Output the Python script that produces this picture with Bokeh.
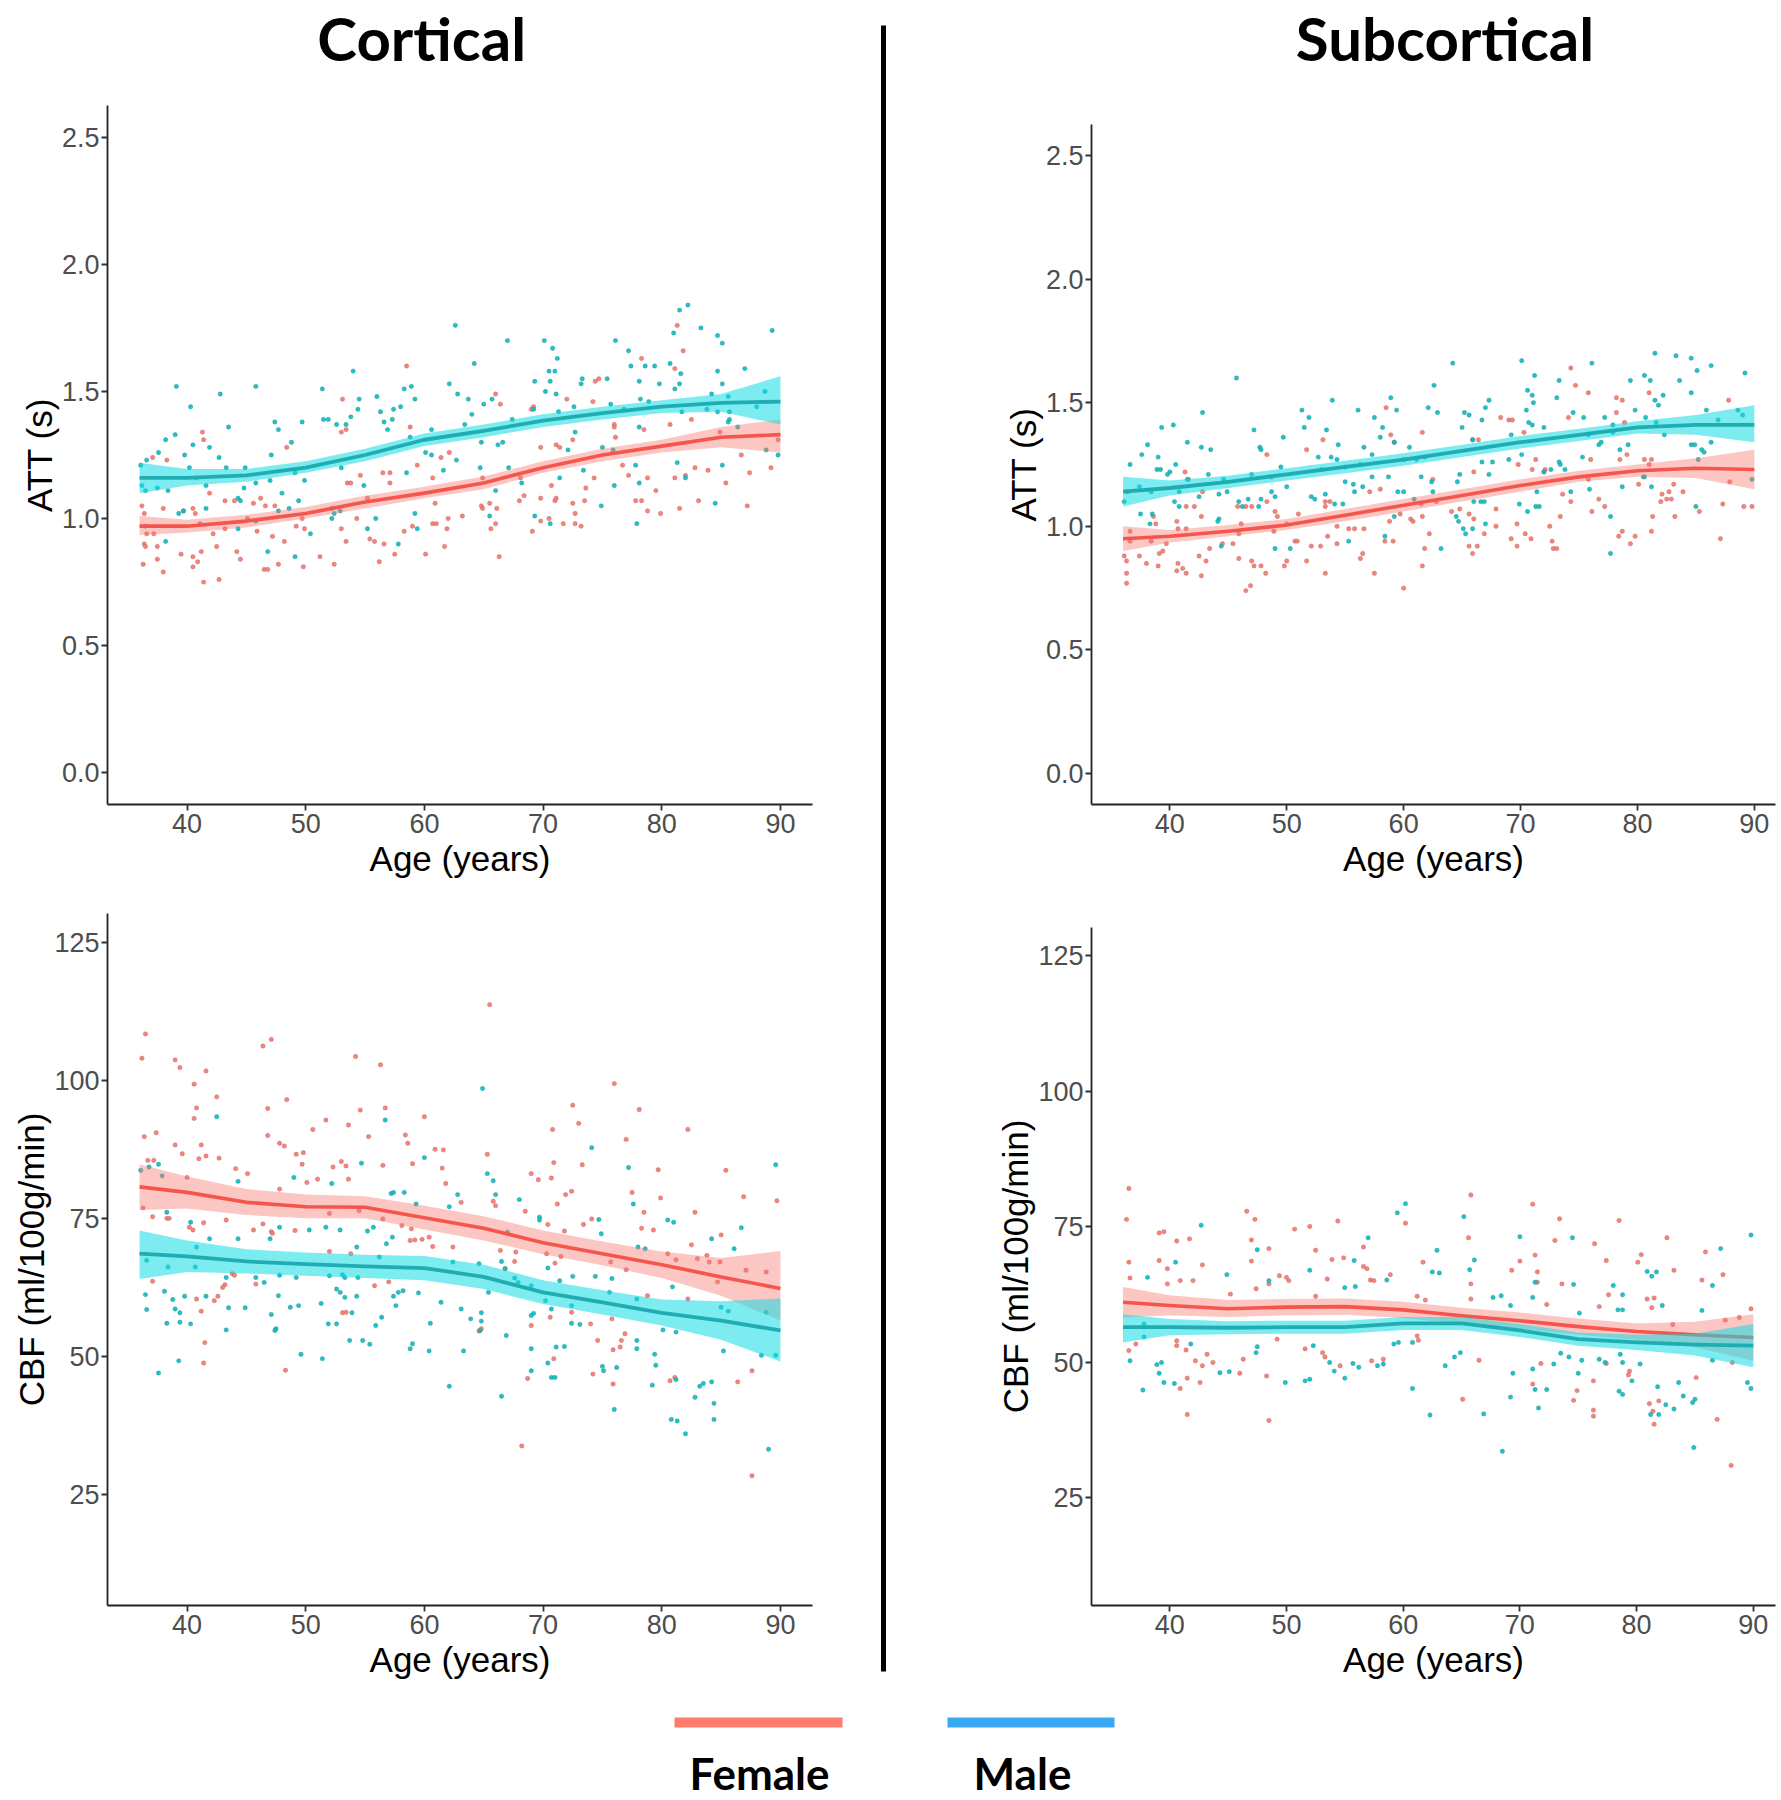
from bokeh.plotting import figure
from bokeh.layouts import row, column
from bokeh.models import Range1d, FixedTicker, NumeralTickFormatter
from bokeh.embed import file_html
from bokeh.resources import INLINE
from bokeh.core.properties import value

# ---------------- DATA ----------------
ages_ticks = [40, 50, 60, 70, 80, 90]
att_ticks = [0.0, 0.5, 1.0, 1.5, 2.0, 2.5]
cbf_ticks = [25, 50, 75, 100, 125]
panel_titles = ["Cortical", "Subcortical"]
legend_labels = ["Female", "Male"]
x_label = "Age (years)"
att_label = "ATT (s)"
cbf_label = "CBF (ml/100g/min)"

# smooth fits (age grid, fitted value, lower CI, upper CI)
fit_age = [36, 40, 45, 50, 55, 60, 65, 70, 75, 80, 85, 90]

ctx_att_f_fit = [0.97, 0.97, 0.99, 1.02, 1.065, 1.10, 1.14, 1.20, 1.25, 1.285, 1.32, 1.33]
ctx_att_f_lo = [0.935, 0.945, 0.965, 1.00, 1.04, 1.08, 1.115, 1.18, 1.225, 1.26, 1.28, 1.26]
ctx_att_f_hi = [1.01, 0.995, 1.015, 1.045, 1.09, 1.125, 1.165, 1.225, 1.275, 1.31, 1.36, 1.39]
ctx_att_m_fit = [1.16, 1.16, 1.17, 1.20, 1.25, 1.31, 1.345, 1.385, 1.415, 1.44, 1.455, 1.46]
ctx_att_m_lo = [1.10, 1.13, 1.145, 1.18, 1.225, 1.285, 1.32, 1.36, 1.39, 1.415, 1.42, 1.37]
ctx_att_m_hi = [1.22, 1.195, 1.195, 1.225, 1.275, 1.335, 1.37, 1.41, 1.44, 1.465, 1.49, 1.56]

sub_att_f_fit = [0.95, 0.96, 0.98, 1.005, 1.045, 1.085, 1.125, 1.165, 1.20, 1.225, 1.235, 1.23]
sub_att_f_lo = [0.90, 0.935, 0.96, 0.985, 1.02, 1.06, 1.10, 1.14, 1.18, 1.20, 1.195, 1.15]
sub_att_f_hi = [1.00, 0.985, 1.005, 1.03, 1.07, 1.11, 1.15, 1.19, 1.225, 1.25, 1.275, 1.31]
sub_att_m_fit = [1.14, 1.155, 1.18, 1.21, 1.24, 1.27, 1.305, 1.34, 1.37, 1.40, 1.41, 1.41]
sub_att_m_lo = [1.08, 1.125, 1.155, 1.185, 1.215, 1.245, 1.28, 1.315, 1.345, 1.375, 1.37, 1.34]
sub_att_m_hi = [1.20, 1.185, 1.205, 1.235, 1.265, 1.295, 1.33, 1.365, 1.395, 1.425, 1.45, 1.49]

ctx_cbf_f_fit = [80.7, 79.7, 77.9, 77.1, 77.0, 75.1, 73.2, 70.6, 68.6, 66.6, 64.4, 62.3]
ctx_cbf_f_lo = [76.5, 76.8, 75.6, 75.0, 75.0, 73.0, 71.0, 68.5, 66.5, 64.2, 61.0, 56.5]
ctx_cbf_f_hi = [84.8, 82.6, 80.3, 79.3, 79.0, 77.3, 75.4, 72.8, 70.8, 69.0, 67.8, 69.1]
ctx_cbf_m_fit = [68.6, 68.1, 67.2, 66.7, 66.3, 66.0, 64.4, 61.6, 59.8, 57.9, 56.5, 54.7]
ctx_cbf_m_lo = [64.0, 65.3, 65.0, 64.6, 64.2, 63.8, 62.2, 59.5, 57.6, 55.6, 53.0, 49.1]
ctx_cbf_m_hi = [72.8, 71.0, 69.4, 68.8, 68.4, 68.2, 66.6, 63.8, 62.0, 60.3, 60.0, 60.5]

sub_cbf_f_fit = [61.1, 60.5, 59.9, 60.2, 60.3, 59.7, 58.6, 57.7, 56.6, 55.7, 55.1, 54.6]
sub_cbf_f_lo = [58.3, 58.7, 58.4, 58.7, 58.8, 58.2, 57.1, 56.2, 55.1, 54.2, 52.8, 50.3]
sub_cbf_f_hi = [63.9, 62.4, 61.5, 61.7, 61.8, 61.2, 60.1, 59.2, 58.1, 57.2, 57.5, 58.9]
sub_cbf_m_fit = [56.5, 56.5, 56.4, 56.5, 56.5, 57.2, 57.2, 55.9, 54.3, 53.7, 53.3, 53.1]
sub_cbf_m_lo = [53.7, 55.0, 55.2, 55.3, 55.3, 56.0, 56.0, 54.7, 53.1, 52.3, 51.3, 49.1]
sub_cbf_m_hi = [58.9, 58.0, 57.6, 57.7, 57.7, 58.4, 58.4, 57.1, 55.5, 55.1, 55.3, 57.1]

# individual subjects (age, value)
ctx_att_female = [
    (58.5, 1.60), (53.1, 1.47), (53.0, 1.34), (53.4, 1.35), (58.8, 1.36), (48.4, 1.28), (41.3, 1.34), (41.4, 1.31),
    (37.1, 1.24), (38.3, 1.23), (59.4, 1.21), (62.1, 1.26), (56.5, 1.18), (57.1, 1.18), (54.6, 1.17), (53.5, 1.14),
    (53.8, 1.14), (57.1, 1.14), (61.4, 1.24), (60.7, 1.16), (46.2, 1.08), (45.6, 1.06), (46.6, 1.05), (47.4, 1.05),
    (43.2, 1.07), (44.0, 1.07), (36.2, 1.05), (36.4, 1.02), (38.0, 1.04), (40.5, 1.04), (40.7, 1.02), (39.7, 1.03),
    (41.1, 0.98), (42.2, 0.94), (43.2, 0.96), (45.9, 0.95), (47.2, 0.93), (48.2, 0.91), (49.9, 0.96), (49.2, 0.97),
    (53.0, 0.96), (53.4, 0.91), (54.3, 1.00), (55.4, 0.92), (55.8, 0.91), (56.6, 0.90), (57.5, 0.86), (58.3, 0.95),
    (59.0, 0.97), (60.7, 0.98), (61.0, 0.98), (61.9, 0.96), (61.7, 0.89), (60.1, 0.86), (56.2, 0.83), (52.4, 0.82),
    (51.2, 0.85), (49.8, 0.81), (47.7, 0.82), (46.5, 0.80), (46.8, 0.80), (44.5, 0.84), (44.2, 0.87), (42.5, 0.89),
    (40.5, 0.85), (40.9, 0.83), (40.5, 0.81), (39.5, 0.86), (41.2, 0.87), (37.5, 0.89), (37.5, 0.84), (36.4, 0.90),
    (36.5, 0.89), (36.3, 0.82), (38.0, 0.79), (41.4, 0.75), (42.7, 0.76), (45.1, 1.00), (36.6, 0.94), (37.2, 0.94),
    (49.7, 1.00), (60.9, 1.06), (62.0, 1.00), (55.2, 1.08), (41.9, 1.10),
    (81.3, 1.76), (81.8, 1.66), (78.3, 1.63), (81.1, 1.59), (74.4, 1.54), (74.7, 1.55), (66.0, 1.49), (66.4, 1.45),
    (72.0, 1.47), (74.2, 1.46), (69.2, 1.44), (69.0, 1.43), (72.5, 1.31), (76.0, 1.37), (76.0, 1.36), (80.7, 1.37),
    (82.5, 1.39), (69.8, 1.28), (71.1, 1.29), (71.4, 1.28), (76.1, 1.32), (78.5, 1.35), (84.9, 1.34), (86.7, 1.25),
    (87.4, 1.18), (89.2, 1.20), (89.8, 1.31), (82.8, 1.20), (83.9, 1.19), (85.4, 1.14), (81.1, 1.16), (82.0, 1.17),
    (79.5, 1.11), (78.8, 1.16), (77.2, 1.17), (76.7, 1.21), (74.3, 1.16), (73.6, 1.12), (73.5, 1.07), (72.5, 1.06),
    (72.7, 1.02), (72.7, 0.98), (73.2, 0.97), (70.7, 1.13), (71.0, 1.07), (71.1, 1.08), (71.7, 0.98), (69.8, 1.08),
    (70.5, 1.00), (69.8, 0.99), (69.1, 0.95), (68.4, 1.09), (68.0, 1.07), (66.1, 1.04), (65.5, 1.06), (64.8, 1.05),
    (64.9, 1.04), (66.0, 0.98), (65.6, 0.96), (63.2, 1.01), (66.3, 0.85), (77.8, 1.07), (78.3, 1.07), (78.8, 1.03),
    (79.9, 1.02), (81.5, 1.04), (83.1, 1.07), (87.2, 1.05), (68.1, 1.16), (64.9, 1.16),
]
ctx_att_male = [
    (62.6, 1.76), (54.0, 1.58), (39.1, 1.52), (45.8, 1.52), (51.4, 1.51), (42.8, 1.49), (40.3, 1.44), (56.0, 1.48),
    (54.5, 1.47), (62.1, 1.53), (58.9, 1.52), (58.3, 1.51), (59.2, 1.47), (54.4, 1.43), (56.3, 1.42), (57.4, 1.43),
    (58.0, 1.44), (53.8, 1.40), (51.5, 1.39), (51.9, 1.39), (52.6, 1.37), (53.4, 1.37), (47.4, 1.38), (49.7, 1.38),
    (47.7, 1.35), (56.6, 1.38), (57.3, 1.39), (56.9, 1.35), (43.5, 1.36), (39.0, 1.33), (38.2, 1.31), (40.5, 1.29),
    (37.6, 1.26), (42.7, 1.24), (39.8, 1.25), (41.9, 1.28), (47.1, 1.25), (48.8, 1.30), (58.8, 1.32), (60.6, 1.35),
    (62.8, 1.49), (36.6, 1.23), (36.1, 1.21), (36.2, 1.13), (36.5, 1.11), (37.5, 1.12), (38.4, 1.11), (40.2, 1.20),
    (40.8, 1.16), (41.6, 1.13), (43.3, 1.20), (44.9, 1.20), (45.8, 1.14), (44.8, 1.12), (47.0, 1.15), (49.1, 1.18),
    (49.9, 1.15), (53.0, 1.20), (54.9, 1.13), (58.5, 1.18), (61.6, 1.19), (60.1, 1.26), (60.6, 1.25), (62.7, 1.23),
    (44.3, 1.08), (44.5, 1.07), (41.6, 1.04), (52.2, 1.04), (48.6, 1.04), (49.4, 1.07), (52.4, 1.02), (52.9, 1.03),
    (50.4, 0.94), (52.2, 1.00), (55.2, 0.96), (55.9, 1.00), (57.8, 0.90), (59.2, 1.02), (59.4, 0.96), (38.2, 0.91),
    (49.1, 0.85), (46.8, 0.87), (45.8, 0.99), (44.3, 0.96), (47.7, 1.03), (36.5, 0.97), (39.3, 1.02), (39.7, 1.03),
    (48.0, 1.10),
    (82.2, 1.84), (81.5, 1.82), (81.0, 1.73), (83.3, 1.75), (84.7, 1.72), (85.1, 1.69), (89.3, 1.74), (76.1, 1.70),
    (77.2, 1.66), (67.0, 1.70), (70.1, 1.70), (70.8, 1.67), (71.2, 1.63), (64.2, 1.61), (70.5, 1.58), (71.0, 1.58),
    (69.3, 1.54), (70.6, 1.54), (70.2, 1.50), (71.1, 1.49), (73.3, 1.55), (73.2, 1.53), (75.4, 1.55), (77.4, 1.60),
    (78.6, 1.60), (79.4, 1.60), (80.7, 1.61), (81.6, 1.57), (81.5, 1.53), (81.1, 1.51), (78.1, 1.54), (79.8, 1.53),
    (84.7, 1.58), (87.0, 1.59), (85.1, 1.53), (88.7, 1.50), (88.0, 1.44), (84.2, 1.49), (85.6, 1.48), (63.7, 1.47),
    (65.0, 1.45), (65.7, 1.47), (64.0, 1.41), (67.4, 1.39), (69.2, 1.43), (71.3, 1.42), (72.6, 1.44), (75.7, 1.45),
    (76.8, 1.43), (78.2, 1.47), (78.9, 1.46), (81.7, 1.42), (83.8, 1.43), (84.7, 1.42), (85.7, 1.42), (85.7, 1.39),
    (85.6, 1.38), (86.4, 1.36), (66.6, 1.30), (66.2, 1.29), (64.8, 1.30), (63.4, 1.37), (72.1, 1.27), (72.7, 1.34),
    (75.0, 1.28), (75.9, 1.27), (78.1, 1.36), (81.3, 1.22), (85.1, 1.21), (88.8, 1.27), (89.8, 1.25), (64.7, 1.20),
    (67.1, 1.20), (68.2, 1.14), (66.0, 1.11), (71.4, 1.16), (73.4, 1.19), (76.0, 1.13), (77.8, 1.21), (78.1, 1.14),
    (82.0, 1.16), (69.3, 1.01), (70.6, 0.98), (65.5, 1.01), (74.9, 1.05), (77.9, 0.98), (84.5, 1.06),
]
sub_att_female = [
    (58.5, 1.48), (58.9, 1.37), (61.6, 1.38), (53.1, 1.35), (51.7, 1.31), (48.3, 1.29), (59.2, 1.34), (41.3, 1.22),
    (41.6, 1.19), (42.8, 1.14), (41.4, 1.08), (42.1, 1.08), (45.8, 1.08), (46.5, 1.08), (47.0, 1.08), (48.3, 1.10),
    (49.0, 1.06), (49.2, 1.04), (42.7, 1.04), (38.6, 1.04), (40.6, 1.02), (41.4, 0.99), (53.3, 1.10), (53.7, 1.10),
    (53.3, 1.08), (57.1, 1.14), (58.0, 1.15), (58.8, 1.02), (59.7, 1.05), (60.6, 1.03), (60.8, 1.02), (61.6, 1.04),
    (61.5, 1.09), (56.6, 0.99), (55.3, 0.99), (55.8, 0.99), (54.3, 1.00), (51.0, 1.05), (50.0, 1.01), (50.7, 0.94),
    (50.9, 0.94), (52.1, 0.92), (52.9, 0.92), (53.5, 0.96), (54.3, 0.93), (56.5, 0.89), (56.3, 0.87), (58.4, 0.94),
    (59.1, 0.94), (61.8, 0.91), (61.6, 0.84), (60.0, 0.75), (57.5, 0.81), (53.3, 0.81), (51.7, 0.86), (50.0, 0.86),
    (49.8, 0.84), (48.2, 0.81), (47.0, 0.86), (47.2, 0.84), (46.5, 0.74), (46.9, 0.76), (47.8, 0.84), (45.9, 0.87),
    (45.4, 0.93), (44.5, 0.93), (43.4, 0.91), (43.1, 0.86), (42.7, 0.80), (42.5, 0.88), (40.7, 0.85), (41.1, 0.83),
    (41.4, 0.81), (40.6, 0.82), (39.7, 0.93), (39.4, 0.90), (39.0, 0.84), (39.1, 0.89), (38.0, 0.85), (37.4, 0.88),
    (36.6, 0.94), (36.1, 0.88), (36.3, 0.86), (36.3, 0.81), (36.3, 0.77), (36.6, 0.98), (38.4, 0.94), (38.8, 1.01),
    (40.7, 0.99), (45.9, 0.97), (46.1, 1.01), (48.9, 0.98), (62.2, 0.97),
    (74.3, 1.64), (74.7, 1.57), (75.8, 1.54), (81.0, 1.54), (78.2, 1.52), (78.7, 1.51), (68.3, 1.44), (69.0, 1.43),
    (69.3, 1.43), (74.1, 1.44), (78.2, 1.46), (78.9, 1.42), (70.3, 1.38), (87.8, 1.51), (65.9, 1.35), (66.4, 1.35),
    (66.0, 1.22), (69.8, 1.25), (71.0, 1.23), (71.3, 1.27), (72.1, 1.23), (72.0, 1.22), (73.6, 1.13), (74.3, 1.10),
    (76.0, 1.27), (78.5, 1.27), (79.1, 1.29), (80.6, 1.27), (81.2, 1.27), (81.0, 1.25), (83.1, 1.17), (83.9, 1.14),
    (82.7, 1.14), (82.1, 1.13), (82.9, 1.11), (82.5, 1.11), (82.0, 1.10), (80.1, 1.17), (75.8, 1.19), (76.7, 1.11),
    (77.2, 1.08), (76.1, 1.06), (69.7, 1.01), (67.9, 1.07), (67.9, 1.00), (66.9, 0.97), (66.0, 1.03), (65.6, 1.05),
    (64.8, 1.07), (64.1, 1.06), (62.5, 1.19), (62.8, 1.10), (70.4, 0.97), (70.9, 0.95), (69.2, 0.95), (69.7, 0.92),
    (72.7, 0.94), (72.8, 0.91), (73.1, 0.91), (72.5, 1.00), (73.4, 1.04), (78.4, 0.96), (78.7, 0.98), (79.8, 0.96),
    (79.4, 0.93), (81.2, 0.98), (81.3, 1.04), (83.2, 1.04), (85.3, 1.06), (87.3, 1.09), (89.1, 1.08), (89.8, 1.08),
    (87.1, 0.95), (66.3, 0.92), (65.6, 0.92), (65.9, 0.89), (87.9, 1.18),
]
sub_att_male = [
    (45.7, 1.60), (53.9, 1.51), (58.9, 1.52), (56.1, 1.47), (59.4, 1.47), (62.1, 1.48), (57.5, 1.44), (51.3, 1.47),
    (51.9, 1.44), (58.2, 1.40), (53.4, 1.39), (51.5, 1.40), (47.2, 1.39), (49.7, 1.36), (42.8, 1.46), (40.3, 1.41),
    (39.3, 1.40), (41.5, 1.34), (38.1, 1.33), (42.7, 1.32), (43.5, 1.31), (47.7, 1.32), (47.8, 1.31), (37.6, 1.29),
    (39.0, 1.28), (36.6, 1.25), (40.5, 1.25), (54.4, 1.33), (56.6, 1.32), (58.0, 1.36), (59.2, 1.34), (52.7, 1.28),
    (53.8, 1.28), (54.3, 1.27), (57.3, 1.29), (60.5, 1.32), (49.5, 1.24), (43.3, 1.21), (38.9, 1.23), (39.2, 1.23),
    (39.8, 1.21), (40.0, 1.22), (41.5, 1.19), (44.6, 1.19), (47.0, 1.21), (48.7, 1.20), (53.0, 1.23), (55.0, 1.24),
    (56.3, 1.25), (57.3, 1.20), (58.7, 1.20), (60.0, 1.27), (61.1, 1.27), (61.8, 1.28), (37.4, 1.16), (36.4, 1.14),
    (36.1, 1.10), (38.4, 1.14), (40.4, 1.10), (40.8, 1.08), (42.5, 1.12), (44.2, 1.13), (44.9, 1.14), (45.9, 1.10),
    (46.7, 1.11), (47.8, 1.11), (47.6, 1.08), (48.7, 1.14), (49.0, 1.12), (50.0, 1.16), (52.1, 1.12), (52.4, 1.11),
    (53.3, 1.13), (54.1, 1.09), (54.8, 1.09), (55.7, 1.17), (55.8, 1.14), (56.5, 1.16), (55.0, 1.18), (59.5, 1.14),
    (60.0, 1.14), (60.9, 1.11), (61.5, 1.20), (62.4, 1.18), (37.5, 1.05), (38.5, 1.05), (38.3, 1.01), (44.2, 1.03),
    (44.1, 1.02), (49.0, 0.91), (50.3, 0.91), (44.4, 0.92), (55.3, 0.94), (58.4, 0.96), (59.2, 1.04), (46.2, 1.08),
    (40.8, 1.14),
    (64.2, 1.66), (70.1, 1.67), (76.1, 1.66), (81.5, 1.70), (83.3, 1.69), (84.6, 1.68), (86.3, 1.65), (85.1, 1.63),
    (89.2, 1.62), (71.2, 1.61), (73.3, 1.59), (79.4, 1.59), (80.6, 1.61), (81.1, 1.59), (83.6, 1.59), (62.6, 1.57),
    (70.6, 1.55), (71.0, 1.53), (71.1, 1.50), (73.1, 1.52), (67.3, 1.51), (67.0, 1.48), (65.2, 1.46), (65.6, 1.45),
    (62.9, 1.46), (66.7, 1.43), (65.0, 1.40), (70.5, 1.47), (70.7, 1.42), (71.0, 1.41), (72.0, 1.40), (74.5, 1.46),
    (75.4, 1.44), (77.2, 1.44), (79.8, 1.47), (80.7, 1.44), (82.2, 1.53), (81.5, 1.51), (81.8, 1.49), (84.6, 1.54),
    (85.9, 1.47), (88.6, 1.47), (89.0, 1.45), (86.9, 1.43), (69.2, 1.37), (65.9, 1.35), (75.8, 1.37), (77.9, 1.41),
    (77.9, 1.38), (76.7, 1.33), (76.9, 1.34), (78.5, 1.31), (79.2, 1.33), (81.6, 1.42), (82.3, 1.37), (86.3, 1.34),
    (84.6, 1.33), (84.9, 1.33), (85.5, 1.31), (85.7, 1.30), (66.7, 1.26), (67.6, 1.26), (69.0, 1.27), (70.1, 1.29),
    (73.3, 1.26), (73.4, 1.25), (72.0, 1.22), (72.6, 1.23), (73.8, 1.23), (75.3, 1.28), (80.6, 1.20), (85.2, 1.27),
    (67.3, 1.21), (64.8, 1.21), (64.6, 1.18), (62.5, 1.14), (66.9, 1.10), (66.6, 1.10), (66.0, 1.10), (69.9, 1.09),
    (70.6, 1.06), (71.3, 1.08), (71.6, 1.08), (71.4, 1.14), (74.3, 1.14), (75.9, 1.15), (78.7, 1.16), (81.2, 1.16),
    (80.5, 1.20), (85.0, 1.08), (89.8, 1.19), (64.5, 1.04), (64.7, 1.02), (65.1, 0.99), (65.3, 0.97), (65.9, 0.99),
    (67.0, 1.01), (77.7, 1.04), (77.7, 0.89), (63.2, 0.91),
]
ctx_cbf_female = [
    (36.5, 108.4), (36.2, 104.0), (39.0, 103.7), (39.4, 102.3), (41.6, 101.7), (40.6, 99.3), (42.5, 97.0), (40.8, 95.0),
    (40.6, 93.1), (46.4, 106.2), (47.1, 107.4), (54.2, 104.3), (56.3, 102.8), (48.4, 96.5), (46.8, 94.9), (54.6, 94.6),
    (56.7, 95.0), (36.4, 89.8), (37.4, 90.5), (39.0, 88.3), (41.2, 88.3), (39.6, 86.7), (41.6, 86.3), (41.0, 85.8),
    (42.7, 85.9), (37.2, 85.5), (44.1, 84.0), (45.1, 83.1), (46.8, 90.0), (47.8, 88.6), (48.2, 88.1), (49.2, 86.6),
    (49.8, 86.9), (49.7, 84.8), (50.6, 91.1), (51.7, 92.8), (53.6, 91.9), (55.3, 89.8), (58.4, 90.1), (58.6, 88.6),
    (60.0, 93.4), (60.9, 87.5), (61.6, 87.4), (61.5, 84.1), (61.8, 81.3), (59.0, 84.9), (56.5, 84.6), (53.0, 85.3),
    (53.4, 84.5), (52.3, 84.3), (53.6, 82.1), (51.0, 82.1), (50.1, 81.5), (47.8, 80.3), (40.0, 82.4), (36.7, 85.5),
    (36.3, 76.9), (37.1, 75.3), (38.3, 75.0), (38.5, 75.0), (40.2, 73.4), (40.5, 72.9), (41.4, 74.2), (43.3, 74.7),
    (45.6, 72.9), (46.4, 74.0), (47.1, 72.6), (47.2, 72.3), (49.1, 72.8), (52.0, 75.9), (54.5, 76.4), (56.5, 74.9),
    (58.1, 73.7), (58.9, 73.1), (58.8, 71.0), (59.2, 71.1), (59.8, 71.2), (60.4, 71.6), (60.7, 69.9), (62.4, 69.8),
    (52.0, 69.0), (53.8, 68.6), (57.0, 63.5), (55.8, 62.8), (45.8, 63.1), (43.8, 65.0), (44.0, 64.7), (43.2, 63.0),
    (43.0, 62.5), (42.6, 60.9), (42.3, 60.1), (40.8, 60.4), (37.1, 63.6), (41.2, 58.2), (41.5, 52.5), (41.4, 48.8),
    (48.3, 47.5), (53.1, 57.9), (53.4, 58.0),
    (65.5, 113.7), (76.0, 99.4), (72.5, 95.5), (78.1, 94.7), (73.0, 92.2), (70.8, 91.1), (82.2, 91.1), (77.0, 89.3),
    (65.3, 86.6), (70.9, 85.1), (73.3, 84.7), (79.7, 83.8), (85.4, 83.7), (69.0, 83.1), (69.6, 82.0), (70.7, 82.3),
    (77.5, 79.7), (72.4, 79.9), (71.9, 79.3), (79.9, 78.7), (86.9, 78.9), (89.7, 78.2), (63.1, 77.9), (65.8, 78.1),
    (66.0, 77.3), (68.5, 76.3), (71.2, 77.6), (78.5, 76.1), (82.8, 76.1), (73.4, 73.9), (70.4, 73.9), (74.1, 74.9),
    (71.8, 72.7), (79.3, 72.9), (78.3, 73.2), (85.0, 72.0), (82.5, 70.2), (83.8, 68.3), (83.0, 67.7), (84.0, 67.1),
    (84.9, 67.1), (87.1, 65.6), (88.8, 65.3), (84.7, 63.5), (66.4, 69.2), (67.6, 67.2), (70.3, 68.6), (71.0, 66.9),
    (71.5, 68.1), (75.7, 67.1), (77.0, 65.7), (80.5, 68.6), (81.2, 67.5), (82.2, 60.4), (78.8, 61.0), (72.4, 58.0),
    (74.0, 55.9), (75.8, 56.8), (76.9, 54.1), (76.6, 52.9), (75.9, 51.2), (76.5, 51.7), (74.6, 52.9), (70.6, 57.1),
    (69.0, 55.6), (70.9, 49.6), (68.7, 46.0), (74.2, 46.8), (75.9, 45.0), (80.7, 45.6), (81.1, 46.2), (86.4, 45.4),
    (87.6, 47.4), (64.8, 55.0), (64.6, 54.6), (67.7, 68.9), (68.2, 33.8), (87.6, 28.4), (66.8, 65.9),
]
ctx_cbf_male = [
    (37.6, 84.8), (36.1, 83.7), (36.8, 84.3), (37.9, 82.7), (42.5, 93.4), (56.7, 92.8), (60.0, 86.0), (44.3, 81.7),
    (49.0, 82.4), (52.2, 81.3), (54.7, 85.0), (57.2, 79.5), (57.4, 79.7), (58.3, 79.7), (59.3, 77.6), (62.1, 77.1),
    (38.3, 76.1), (40.3, 74.3), (41.9, 71.3), (44.3, 71.3), (47.0, 71.3), (47.8, 73.4), (50.3, 72.9), (51.7, 73.4),
    (52.9, 72.9), (54.3, 69.8), (55.2, 72.7), (55.7, 73.4), (57.3, 71.6), (56.2, 68.0), (56.8, 70.4), (36.6, 67.4),
    (38.4, 66.2), (40.8, 69.8), (40.7, 66.2), (43.3, 64.3), (45.8, 64.3), (46.5, 63.4), (47.8, 64.7), (49.2, 64.3),
    (52.0, 64.6), (53.1, 64.8), (53.3, 64.3), (54.4, 64.3), (36.5, 61.2), (36.6, 58.5), (38.1, 61.8), (38.8, 60.3),
    (39.8, 60.9), (39.4, 57.9), (39.4, 56.2), (39.0, 58.6), (40.3, 55.9), (38.3, 56.0), (41.6, 60.9), (43.5, 58.8),
    (44.9, 58.8), (43.3, 54.8), (47.1, 57.6), (47.5, 55.0), (47.4, 54.7), (47.7, 61.0), (48.7, 58.9), (49.4, 59.2),
    (51.3, 59.6), (51.9, 55.9), (52.6, 62.2), (52.9, 61.6), (53.3, 60.7), (54.3, 60.9), (53.9, 57.9), (52.6, 55.9),
    (53.7, 52.9), (54.8, 52.9), (55.4, 52.2), (55.9, 55.6), (56.4, 57.1), (57.6, 59.2), (57.4, 60.9), (57.8, 61.6),
    (58.2, 61.9), (59.5, 61.5), (60.5, 56.0), (60.4, 51.0), (59.0, 52.3), (58.8, 51.4), (61.4, 59.8), (62.4, 67.1),
    (49.6, 50.4), (51.4, 49.6), (39.3, 49.2), (37.6, 47.0), (62.1, 44.6),
    (64.9, 98.5), (74.1, 87.8), (77.2, 84.2), (89.6, 84.7), (65.3, 83.1), (65.8, 81.8), (66.0, 79.3), (62.8, 79.3),
    (68.0, 78.4), (77.6, 77.6), (69.7, 75.2), (69.7, 74.7), (74.7, 74.8), (74.9, 72.2), (80.5, 74.7), (81.0, 74.3),
    (86.7, 73.3), (78.0, 69.8), (78.6, 69.5), (84.2, 71.3), (86.1, 69.5), (67.0, 72.5), (66.5, 67.2), (66.8, 65.9),
    (64.6, 66.8), (72.5, 64.5), (74.4, 64.5), (75.8, 64.1), (80.9, 62.6), (71.4, 63.7), (69.0, 62.8), (70.4, 66.0),
    (65.4, 61.6), (67.6, 64.2), (67.9, 63.4), (70.2, 60.1), (70.7, 58.6), (69.2, 57.8), (69.0, 57.4), (72.4, 59.2),
    (75.6, 61.6), (77.9, 60.4), (85.0, 58.9), (85.6, 58.2), (88.8, 58.0), (63.1, 58.6), (63.9, 56.8), (64.8, 57.9),
    (64.8, 56.4), (64.7, 54.7), (66.9, 53.8), (63.3, 51.0), (72.4, 56.0), (73.1, 55.8), (71.1, 51.7), (71.8, 51.8),
    (69.0, 51.4), (70.4, 48.8), (77.9, 52.9), (77.9, 51.4), (79.4, 50.4), (80.1, 54.8), (79.5, 48.4), (81.2, 54.4),
    (85.2, 51.0), (88.4, 50.2), (89.6, 50.2), (75.0, 48.2), (75.1, 47.4), (76.2, 48.0), (69.0, 47.4), (70.7, 46.2),
    (71.0, 46.2), (79.2, 44.8), (81.2, 45.8), (83.2, 44.6), (83.5, 45.1), (84.2, 45.4), (82.8, 42.6), (84.4, 41.5),
    (84.4, 38.6), (80.8, 38.6), (81.3, 38.3), (82.0, 36.0), (76.0, 40.4), (66.5, 42.8), (89.0, 33.2),
]
sub_cbf_female = [
    (36.5, 82.1), (36.3, 76.4), (39.1, 73.9), (39.5, 74.1), (40.6, 72.4), (41.7, 72.8), (46.6, 77.9), (47.3, 76.4),
    (47.0, 72.6), (48.5, 71.0), (47.0, 68.7), (50.7, 74.6), (52.0, 75.1), (54.4, 76.1), (52.5, 70.7), (53.9, 69.0),
    (54.9, 69.3), (56.6, 71.3), (60.2, 75.7), (65.8, 80.9), (65.6, 73.0), (71.1, 79.2), (73.4, 76.5), (78.5, 76.2),
    (73.0, 72.5), (76.4, 71.9), (82.6, 73.0), (80.4, 69.9), (80.1, 68.5), (77.4, 68.8), (83.2, 67.0), (85.9, 70.4),
    (87.4, 66.2), (85.6, 65.2), (70.0, 68.7), (69.3, 67.0), (71.5, 66.7), (71.3, 69.8), (73.6, 64.5), (71.5, 64.8),
    (72.3, 60.7), (76.8, 60.3), (77.6, 62.5), (80.9, 61.7), (81.5, 61.9), (81.3, 60.1), (83.1, 57.0), (87.6, 57.8),
    (88.8, 58.3), (89.8, 59.9), (65.8, 64.5), (65.8, 61.7), (61.7, 68.5), (61.2, 62.2), (61.9, 61.5), (58.9, 66.2),
    (57.2, 65.2), (57.5, 65.1), (56.6, 67.7), (56.9, 67.3), (53.5, 65.4), (52.5, 62.2), (50.0, 65.7), (50.2, 65.1),
    (49.4, 66.0), (48.5, 64.5), (47.4, 63.6), (45.2, 62.6), (40.9, 65.1), (39.8, 64.5), (39.8, 67.3), (42.0, 65.1),
    (42.8, 68.0), (36.5, 68.5), (39.1, 68.8), (36.6, 65.6), (36.5, 52.2), (37.1, 53.4), (40.6, 54.0), (40.6, 53.1),
    (41.4, 52.3), (42.2, 50.3), (42.8, 49.4), (43.7, 50.0), (43.2, 51.5), (40.9, 45.2), (41.5, 47.1), (42.6, 46.3),
    (46.0, 48.0), (48.3, 47.5), (46.3, 50.6), (49.2, 54.3), (51.6, 52.5), (53.1, 51.8), (53.3, 51.0), (54.6, 49.4),
    (57.3, 50.3), (58.3, 50.6), (61.2, 54.9), (61.3, 54.1), (65.1, 43.2), (66.5, 50.4), (71.8, 49.8), (71.1, 46.0),
    (74.6, 43.0), (74.9, 44.8), (76.3, 41.2), (76.3, 40.1), (76.3, 46.6), (77.4, 49.8), (79.4, 48.4), (79.3, 47.7),
    (81.1, 42.4), (81.5, 38.6), (81.4, 41.0), (81.9, 42.9), (85.1, 47.2), (86.9, 39.5), (88.2, 50.0), (88.1, 31.0),
    (41.5, 40.4), (48.5, 39.3),
]
sub_cbf_male = [
    (42.7, 75.3), (60.2, 79.3), (59.5, 77.6), (65.2, 76.9), (70.0, 73.2), (74.5, 73.0), (57.0, 73.0), (55.8, 68.8),
    (62.9, 70.7), (66.1, 68.9), (65.7, 67.1), (62.5, 66.7), (63.1, 66.5), (58.6, 65.2), (47.5, 70.8), (48.5, 65.1),
    (44.9, 66.2), (38.1, 65.7), (40.5, 68.5), (52.0, 67.0), (55.0, 63.8), (55.9, 64.0), (80.9, 66.8), (81.3, 65.9),
    (82.2, 60.5), (87.2, 71.0), (86.5, 64.2), (89.8, 73.5), (71.3, 64.8), (71.1, 62.0), (74.6, 64.4), (75.1, 59.1),
    (78.0, 64.2), (78.8, 62.5), (78.4, 59.7), (78.8, 59.7), (67.7, 62.0), (68.4, 62.3), (69.2, 60.5), (85.6, 59.6),
    (37.8, 57.1), (37.8, 54.7), (36.6, 50.3), (39.3, 50.0), (38.9, 49.6), (39.1, 48.0), (39.5, 46.3), (40.4, 46.1),
    (37.7, 44.9), (41.8, 53.4), (44.3, 48.1), (45.1, 48.3), (47.5, 52.9), (47.4, 51.8), (49.9, 46.3), (51.6, 46.6),
    (52.0, 46.9), (52.3, 53.1), (53.7, 50.0), (54.1, 48.4), (55.0, 47.1), (55.7, 49.8), (56.2, 49.1), (57.8, 49.4),
    (58.3, 49.7), (59.2, 53.4), (59.6, 53.7), (60.8, 53.7), (60.8, 45.2), (62.3, 40.3), (63.6, 49.4), (64.4, 51.0),
    (64.9, 51.8), (66.9, 40.5), (69.4, 48.0), (69.2, 43.6), (71.1, 48.8), (71.3, 45.0), (72.3, 45.0), (71.6, 41.6),
    (72.9, 49.7), (73.5, 51.7), (74.2, 51.0), (75.0, 48.0), (75.3, 50.4), (76.8, 50.6), (77.3, 50.0), (78.6, 51.5),
    (78.8, 50.0), (79.6, 46.6), (78.5, 44.7), (78.8, 44.1), (80.3, 49.7), (81.8, 45.5), (81.2, 40.4), (81.9, 40.4),
    (82.5, 42.2), (83.2, 41.4), (83.6, 46.3), (84.0, 43.8), (84.8, 42.6), (85.0, 43.2), (84.9, 34.3), (86.5, 50.4),
    (89.5, 46.3), (89.8, 45.2), (68.5, 33.6), (81.7, 66.7),
]

# ---------------- STYLE ----------------
FEMALE_PT = "#F8766D"
MALE_PT = "#00BFC4"
FEMALE_LINE = "#F5554C"
MALE_LINE = "#1FADB2"
FEMALE_BAND = "#F8766D"
MALE_BAND = "#12DCE4"
TICK_FONT = "Liberation Sans"


def make_panel(width, height, borders, xr, yr, yticks, ylabel, fem, mal, fits, yfmt=None):
    bl, br, bt, bb = borders
    p = figure(width=width, height=height, x_range=Range1d(*xr), y_range=Range1d(*yr),
               output_backend="svg", toolbar_location=None,
               min_border_left=bl, min_border_right=br, min_border_top=bt, min_border_bottom=bb)
    p.outline_line_color = None
    p.xgrid.visible = False
    p.ygrid.visible = False
    p.background_fill_color = "white"
    p.border_fill_color = "white"

    p.scatter([a for a, v in fem], [v for a, v in fem], size=4.4, fill_color=FEMALE_PT,
              line_color="#A8605A", line_width=0.6, fill_alpha=0.9, line_alpha=0.6)
    p.scatter([a for a, v in mal], [v for a, v in mal], size=4.4, fill_color=MALE_PT,
              line_color="#3C8585", line_width=0.6, fill_alpha=0.9, line_alpha=0.6)

    f_fit, f_lo, f_hi, m_fit, m_lo, m_hi = fits
    p.varea(x=fit_age, y1=f_lo, y2=f_hi, fill_color=FEMALE_BAND, fill_alpha=0.42)
    p.line(fit_age, f_fit, line_color=FEMALE_LINE, line_width=3.6, line_join="round")
    p.varea(x=fit_age, y1=m_lo, y2=m_hi, fill_color=MALE_BAND, fill_alpha=0.55)
    p.line(fit_age, m_fit, line_color=MALE_LINE, line_width=3.8, line_join="round")

    p.xaxis.ticker = FixedTicker(ticks=ages_ticks)
    p.yaxis.ticker = FixedTicker(ticks=yticks)
    if yfmt:
        p.yaxis.formatter = NumeralTickFormatter(format=yfmt)
    p.xaxis.axis_label = x_label
    p.yaxis.axis_label = ylabel
    for ax in (p.xaxis, p.yaxis):
        ax.axis_line_color = "#222222"
        ax.axis_line_width = 1.8
        ax.major_tick_line_color = "#333333"
        ax.major_tick_line_width = 1.8
        ax.major_tick_out = 6
        ax.major_tick_in = 0
        ax.minor_tick_line_color = None
        ax.major_label_text_font = TICK_FONT
        ax.major_label_text_font_size = "27px"
        ax.major_label_text_color = "#4D4D4D"
        ax.axis_label_text_font = TICK_FONT
        ax.axis_label_text_font_size = "35px"
        ax.axis_label_text_font_style = "normal"
        ax.axis_label_text_color = "#000000"
    p.xaxis.major_label_standoff = 3
    p.xaxis.axis_label_standoff = 3
    p.yaxis.major_label_standoff = 2
    p.yaxis.axis_label_standoff = 0
    return p


def blank(width, height):
    p = figure(width=width, height=height, x_range=Range1d(0, width), y_range=Range1d(0, height),
               output_backend="svg", toolbar_location=None, x_axis_location=None, y_axis_location=None,
               min_border=0)
    p.outline_line_color = None
    p.xgrid.visible = False
    p.ygrid.visible = False
    return p


LEFT_W, DIV_W, RIGHT_W = 875, 16, 890
TITLE_H, TOP_H, BOT_H, LEG_H = 76, 804, 810, 110

p_tl = make_panel(LEFT_W, TOP_H, (103, 57, 29, 75), (33.3, 92.7), (-0.125, 2.625), att_ticks, att_label,
                  ctx_att_female, ctx_att_male,
                  (ctx_att_f_fit, ctx_att_f_lo, ctx_att_f_hi, ctx_att_m_fit, ctx_att_m_lo, ctx_att_m_hi), "0.0")
p_tr = make_panel(RIGHT_W, TOP_H, (196, 6, 48, 74), (33.3, 91.81), (-0.125, 2.625), att_ticks, att_label,
                  sub_att_female, sub_att_male,
                  (sub_att_f_fit, sub_att_f_lo, sub_att_f_hi, sub_att_m_fit, sub_att_m_lo, sub_att_m_hi), "0.0")
p_bl = make_panel(LEFT_W, BOT_H, (107, 63, 33, 85), (33.3, 92.7), (4.9, 130.2), cbf_ticks, cbf_label,
                  ctx_cbf_female, ctx_cbf_male,
                  (ctx_cbf_f_fit, ctx_cbf_f_lo, ctx_cbf_f_hi, ctx_cbf_m_fit, ctx_cbf_m_lo, ctx_cbf_m_hi))
p_br = make_panel(RIGHT_W, BOT_H, (200, 6, 47, 85), (33.3, 91.9), (5.15, 130.25), cbf_ticks, cbf_label,
                  sub_cbf_female, sub_cbf_male,
                  (sub_cbf_f_fit, sub_cbf_f_lo, sub_cbf_f_hi, sub_cbf_m_fit, sub_cbf_m_lo, sub_cbf_m_hi))

t_l = blank(LEFT_W, TITLE_H)
t_l.text(x=[390], y=[39], text=[panel_titles[0]], text_font=value("Lato"), text_font_style="bold",
         text_font_size="60px", text_align="center", text_baseline="alphabetic", text_color="black")
t_r = blank(RIGHT_W, TITLE_H)
t_r.text(x=[460], y=[39], text=[panel_titles[1]], text_font=value("Lato"), text_font_style="bold",
         text_font_size="60px", text_align="center", text_baseline="alphabetic", text_color="black")

col_h = TITLE_H + TOP_H + BOT_H
div = blank(DIV_W, col_h)
div.segment(x0=[8], y0=[19], x1=[8], y1=[col_h - 25], line_width=5, line_color="black")

leg = blank(LEFT_W + DIV_W + RIGHT_W, LEG_H)
leg.segment(x0=[674, 947], y0=[78, 78], x1=[842, 1114], y1=[78, 78], line_width=10,
            line_color=["#FF7B6C", "#39A9F4"], line_cap="butt")
leg.text(x=[759, 1022], y=[28, 28], text=legend_labels, text_font=value("Lato"), text_font_style="bold",
         text_font_size="44px", text_align="center", text_baseline="alphabetic", text_color="black")

layout = column(
    row(column(t_l, p_tl, p_bl), div, column(t_r, p_tr, p_br)),
    leg,
)

open("out.html", "w").write(file_html(layout, INLINE))
